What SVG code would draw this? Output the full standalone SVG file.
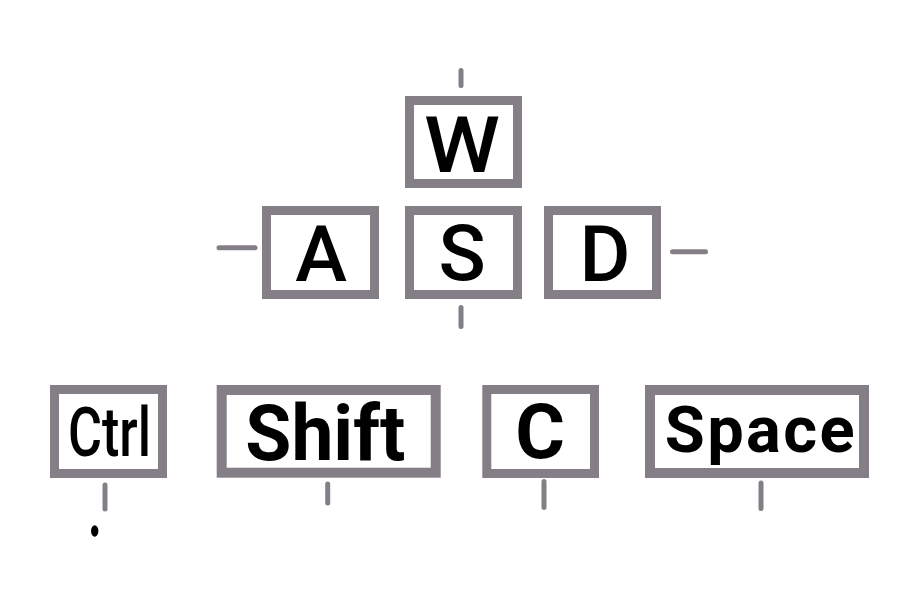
<svg xmlns="http://www.w3.org/2000/svg" width="920" height="590" viewBox="0 0 920 590">
<style>
.key{fill:#fff;stroke:#847f86;stroke-width:9}
.wide{stroke-width:10}
.tick{stroke:#847f86;stroke-width:5;stroke-linecap:round;fill:none}
.lbl{font-family:Roboto,"Liberation Sans",Arial,sans-serif;text-anchor:middle;fill:#000;font-weight:bold}
.med{font-weight:500}
</style>
<rect width="920" height="590" fill="#fff"/>
<g id="connectors">
<line class="tick" x1="461" y1="70.5" x2="461" y2="85.5"/>
<line class="tick" x1="219" y1="247.7" x2="255" y2="247.7"/>
<line class="tick" x1="672.5" y1="251.7" x2="705.5" y2="251.7"/>
<line class="tick" x1="461" y1="307.5" x2="461" y2="326.5"/>
<line class="tick" x1="105" y1="485" x2="105" y2="509"/>
<line class="tick" x1="327.7" y1="484" x2="327.7" y2="503"/>
<line class="tick" x1="544" y1="481.5" x2="544" y2="507.5"/>
<line class="tick" x1="761" y1="483" x2="761" y2="508.5"/>
<ellipse cx="94.7" cy="531" rx="3.7" ry="5.8" fill="#000"/>
</g>
<g id="key-w">
<rect class="key" x="409.5" y="100.5" width="108" height="83"/>
<text class="lbl med" x="462" y="171.5" font-size="78" textLength="76" lengthAdjust="spacingAndGlyphs">W</text>
</g>
<g id="key-a">
<rect class="key" x="266.5" y="210.5" width="108" height="84"/>
<text class="lbl med" x="321" y="280.5" font-size="78">A</text>
</g>
<g id="key-s">
<rect class="key" x="409.5" y="210.5" width="108" height="84"/>
<text class="lbl med" x="462" y="280" font-size="78">S</text>
</g>
<g id="key-d">
<rect class="key" x="548.5" y="210.5" width="108" height="84"/>
<text class="lbl med" x="605" y="280.5" font-size="78">D</text>
</g>
<g id="key-ctrl">
<rect class="key" x="54.5" y="389.5" width="108" height="84"/>
<text class="lbl med" x="109.5" y="456" font-size="68" textLength="83" lengthAdjust="spacingAndGlyphs">Ctrl</text>
</g>
<g id="key-shift">
<rect class="key wide" x="221.7" y="390" width="214" height="82.7"/>
<text class="lbl" x="325.3" y="459.5" font-size="77" textLength="160" lengthAdjust="spacingAndGlyphs">Shift</text>
</g>
<g id="key-c">
<rect class="key" x="486.8" y="389.5" width="107.7" height="84"/>
<text class="lbl" x="540" y="458" font-size="76">C</text>
</g>
<g id="key-space">
<rect class="key wide" x="650" y="390" width="214" height="83"/>
<text class="lbl" x="759.7" y="452" font-size="65" textLength="190" lengthAdjust="spacing">Space</text>
</g>
</svg>
